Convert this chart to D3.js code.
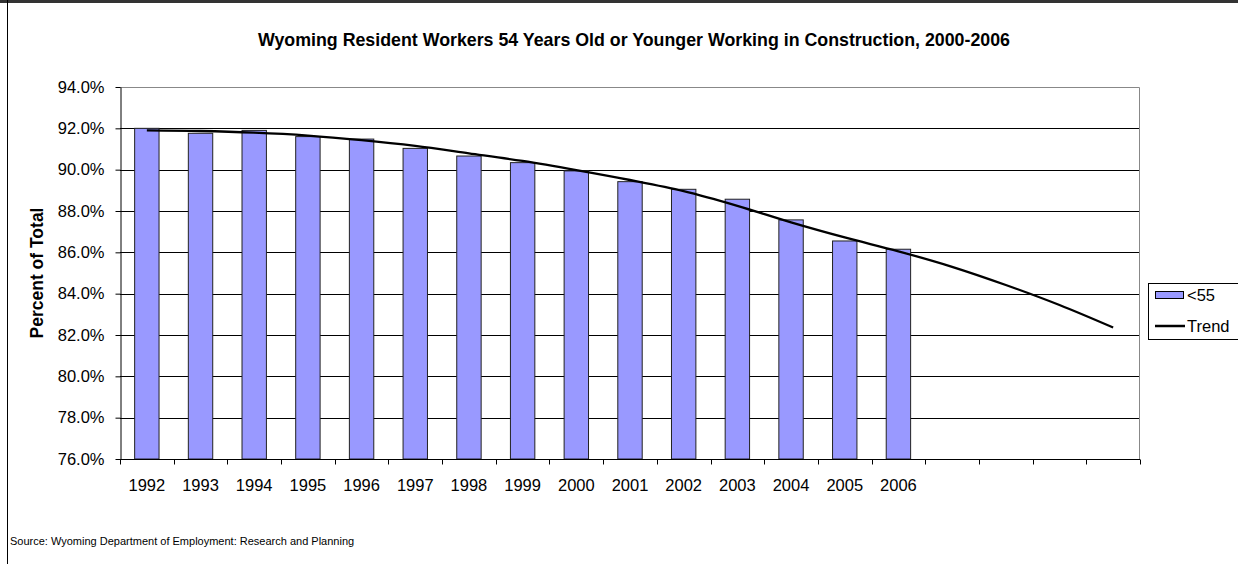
<!DOCTYPE html>
<html>
<head>
<meta charset="utf-8">
<script src="https://cdn.jsdelivr.net/npm/d3@7"></script>
<style>
  body { margin: 0; background: #fff; }
  svg { font-family: "Liberation Sans", Arial, sans-serif; }
</style>
</head>
<body>
<script>
// Data
const years = ["1992", "1993", "1994", "1995", "1996", "1997", "1998", "1999",
               "2000", "2001", "2002", "2003", "2004", "2005", "2006"];
// four unlabeled slots after 2006 where the trend keeps going
const categories = years.concat(["", "", "", ""]);
const under55 = [92.0, 91.76, 91.9, 91.6, 91.48, 91.03, 90.66, 90.34,
                 89.94, 89.42, 89.05, 88.57, 87.57, 86.55, 86.15];
const trend = [91.9, 91.87, 91.79, 91.65, 91.43, 91.15, 90.79, 90.42,
               89.98, 89.5, 88.96, 88.25, 87.45, 86.72, 86.05,
               85.3, 84.42, 83.45, 82.36];
const yTicks = [76, 78, 80, 82, 84, 86, 88, 90, 92, 94];

const width = 1238, height = 564;
const plot = { left: 120, right: 1140, top: 87, bottom: 459 };

const svg = d3.select("body").append("svg")
    .attr("width", width)
    .attr("height", height);

// chart border (cropped on right and bottom like the picture)
svg.append("line")
    .attr("x1", 0).attr("x2", width).attr("y1", 1.5).attr("y2", 1.5)
    .attr("stroke", "#333").attr("stroke-width", 3);
svg.append("line")
    .attr("x1", 7.5).attr("x2", 7.5).attr("y1", 0).attr("y2", height)
    .attr("stroke", "#000").attr("stroke-width", 1);

const x = d3.scaleBand()
    .domain(d3.range(categories.length))
    .range([plot.left, plot.right])
    .paddingInner(0)
    .paddingOuter(0);

const y = d3.scaleLinear()
    .domain([76, 94])
    .range([plot.bottom, plot.top]);

// gridlines
svg.append("g")
    .selectAll("line")
    .data(yTicks.filter(d => d > 76 && d < 94))
    .enter().append("line")
    .attr("x1", plot.left).attr("x2", plot.right)
    .attr("y1", d => Math.round(y(d)) + 0.5)
    .attr("y2", d => Math.round(y(d)) + 0.5)
    .attr("stroke", "#000").attr("stroke-width", 1);

// plot area frame (gray) top + right
svg.append("path")
    .attr("d", `M${plot.left},${plot.top + 0.5}H${plot.right - 0.5}V${plot.bottom}`)
    .attr("fill", "none").attr("stroke", "#888").attr("stroke-width", 1);

// bars
const bw = x.bandwidth() / 2.2;
svg.append("g")
    .selectAll("rect")
    .data(under55)
    .enter().append("rect")
    .attr("x", (d, i) => x(i) + (x.bandwidth() - bw) / 2)
    .attr("y", d => y(d))
    .attr("width", bw)
    .attr("height", d => y(76) - y(d))
    .attr("fill", "#9999ff")
    .attr("stroke", "#222")
    .attr("stroke-width", 1);

// trend line
const line = d3.line()
    .x((d, i) => x(i) + x.bandwidth() / 2)
    .y(d => y(d))
    .curve(d3.curveMonotoneX);

svg.append("path")
    .datum(trend)
    .attr("d", line)
    .attr("fill", "none")
    .attr("stroke", "#000")
    .attr("stroke-width", 2.3);

// y axis
const yAxis = svg.append("g")
    .attr("transform", `translate(${plot.left + 0.5},0)`)
    .call(d3.axisLeft(y).tickValues(yTicks).tickSize(5).tickSizeOuter(0)
        .tickFormat(d => d.toFixed(1) + "%"));
yAxis.select(".domain").attr("stroke", "#000");
yAxis.selectAll("text")
    .attr("x", -16)
    .attr("font-size", 16.5)
    .attr("font-family", "Liberation Sans, Arial, sans-serif")
    .attr("fill", "#000");

// x axis: ticks at category boundaries
const xAxis = svg.append("g")
    .attr("transform", `translate(0,${plot.bottom + 0.5})`);
xAxis.append("line")
    .attr("x1", plot.left).attr("x2", plot.right)
    .attr("stroke", "#000");
xAxis.selectAll(".tk")
    .data(d3.range(categories.length + 1))
    .enter().append("line")
    .attr("class", "tk")
    .attr("x1", i => Math.round(plot.left + i * x.step()) + 0.5)
    .attr("x2", i => Math.round(plot.left + i * x.step()) + 0.5)
    .attr("y1", 0).attr("y2", 5)
    .attr("stroke", "#000");
xAxis.selectAll("text")
    .data(categories)
    .enter().append("text")
    .attr("x", (d, i) => x(i) + x.bandwidth() / 2)
    .attr("y", 31)
    .attr("text-anchor", "middle")
    .attr("font-size", 16.5)
    .text(d => d);

// title
svg.append("text")
    .attr("x", 634)
    .attr("y", 46)
    .attr("text-anchor", "middle")
    .attr("font-weight", "bold")
    .attr("font-size", 17.8)
    .text("Wyoming Resident Workers 54 Years Old or Younger Working in Construction, 2000-2006");

// y axis title
svg.append("text")
    .attr("transform", "translate(43,273) rotate(-90)")
    .attr("text-anchor", "middle")
    .attr("font-weight", "bold")
    .attr("font-size", 17.5)
    .text("Percent of Total");

// legend
const legend = svg.append("g");
legend.append("rect")
    .attr("x", 1148.5).attr("y", 283.5)
    .attr("width", 100).attr("height", 56)
    .attr("fill", "#fff").attr("stroke", "#000");
legend.append("rect")
    .attr("x", 1155.5).attr("y", 291.5)
    .attr("width", 28).attr("height", 7)
    .attr("fill", "#9999ff").attr("stroke", "#000");
legend.append("text")
    .attr("x", 1187).attr("y", 301)
    .attr("font-size", 16.5)
    .text("<55");
legend.append("line")
    .attr("x1", 1155).attr("x2", 1185)
    .attr("y1", 326).attr("y2", 326)
    .attr("stroke", "#000").attr("stroke-width", 2.5);
legend.append("text")
    .attr("x", 1187).attr("y", 332)
    .attr("font-size", 16.5)
    .text("Trend");

// source note
svg.append("text")
    .attr("x", 10)
    .attr("y", 545)
    .attr("font-size", 11)
    .text("Source: Wyoming Department of Employment: Research and Planning");
</script>
</body>
</html>
